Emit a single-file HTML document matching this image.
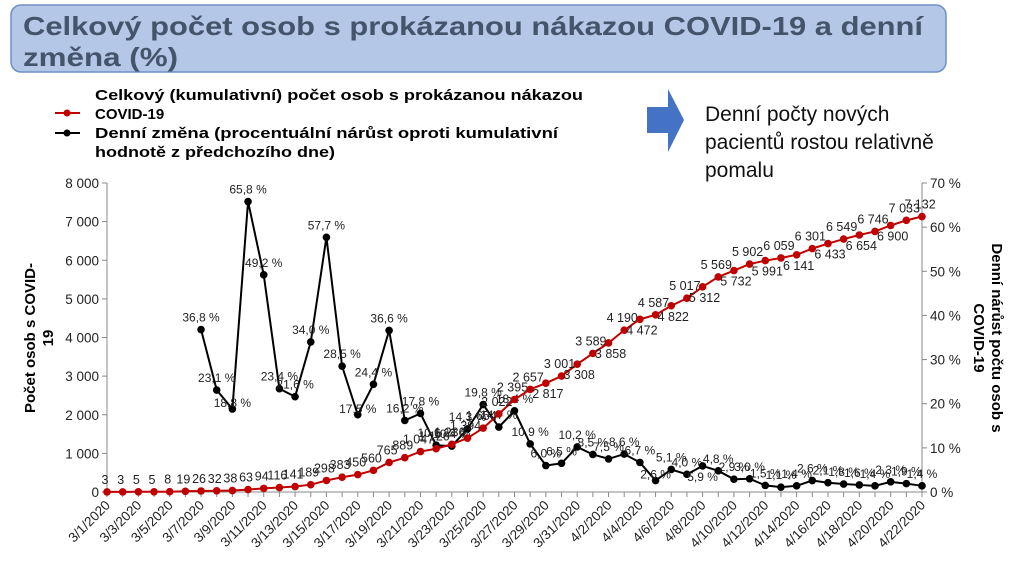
<!DOCTYPE html>
<html><head><meta charset="utf-8"><style>
html,body{margin:0;padding:0;background:#fff;}
svg{display:block;font-family:"Liberation Sans",sans-serif;}
</style></head><body>
<svg id="chart" width="1024" height="568" viewBox="0 0 1024 568">
  <rect x="11" y="5" width="935" height="67" rx="10" fill="#b4c7e7" stroke="#6f8fc9" stroke-width="1.5"/>
  <text x="23" y="35" font-size="26" font-weight="bold" fill="#44546a" textLength="900" lengthAdjust="spacingAndGlyphs">Celkový počet osob s prokázanou nákazou COVID-19 a denní</text>
  <text x="23" y="66" font-size="26" font-weight="bold" fill="#44546a" textLength="155" lengthAdjust="spacingAndGlyphs">změna (%)</text>

  <g>
    <line x1="55" y1="113" x2="80" y2="113" stroke="#c00000" stroke-width="2"/>
    <circle cx="67" cy="113" r="3.5" fill="#c00000"/>
    <text x="95" y="100" font-size="15" font-weight="bold" textLength="488" lengthAdjust="spacingAndGlyphs">Celkový (kumulativní) počet osob s prokázanou nákazou</text>
    <text x="95" y="119" font-size="15" font-weight="bold">COVID-19</text>
    <line x1="55" y1="133" x2="80" y2="133" stroke="#000" stroke-width="2"/>
    <circle cx="67" cy="133" r="3.5" fill="#000"/>
    <text x="95" y="138" font-size="15" font-weight="bold" textLength="463" lengthAdjust="spacingAndGlyphs">Denní změna (procentuální nárůst oproti kumulativní</text>
    <text x="95" y="157" font-size="15" font-weight="bold" textLength="240" lengthAdjust="spacingAndGlyphs">hodnotě z předchozího dne)</text>
  </g>

  <polygon points="647,107 668,107 668,89 684,120 668,152 668,133 647,133" fill="#4472c4"/>
  <g font-size="21" fill="#111">
    <text x="705" y="121">Denní počty nových</text>
    <text x="705" y="149">pacientů rostou relativně</text>
    <text x="705" y="177">pomalu</text>
  </g>

  <text transform="translate(35,338) rotate(-90)" text-anchor="middle" font-size="15" font-weight="bold"><tspan x="0" dy="0">Počet osob s COVID-</tspan><tspan x="0" dy="18">19</tspan></text>
  <text transform="translate(992,338) rotate(90)" text-anchor="middle" font-size="15" font-weight="bold"><tspan x="0" dy="0">Denní nárůst počtu osob s</tspan><tspan x="0" dy="18">COVID-19</tspan></text>

  <g id="axes"></g>
  <g id="marks"></g>
</svg>
<script>
const dates = [];
for (let d = 1; d <= 31; d++) dates.push('3/' + d + '/2020');
for (let d = 1; d <= 22; d++) dates.push('4/' + d + '/2020');
const cumulative = [3,3,5,5,8,19,26,32,38,63,94,116,141,189,298,383,450,560,765,889,1047,1120,1236,1394,1654,2022,2395,2657,2817,3001,3308,3589,3858,4190,4472,4587,4822,5017,5312,5569,5732,5902,5991,6059,6141,6301,6433,6549,6654,6746,6900,7033,7132];
const dailyPct = [null,null,null,null,null,null,36.8,23.1,18.8,65.8,49.2,23.4,21.6,34.0,57.7,28.5,17.5,24.4,36.6,16.2,17.8,10.6,10.4,14.3,19.8,14.7,18.4,10.9,6.0,6.5,10.2,8.5,7.5,8.6,6.7,2.6,5.1,4.0,5.9,4.8,2.9,3.0,1.5,1.1,1.4,2.6,2.1,1.8,1.6,1.4,2.3,1.9,1.4];
const leftTicks = [0,1000,2000,3000,4000,5000,6000,7000,8000];
const rightTicks = [0,10,20,30,40,50,60,70];

const NS = 'http://www.w3.org/2000/svg';
const X0 = 107, X1 = 922, YB = 492, YT = 183;
const xS = i => X0 + (X1 - X0) * i / (dates.length - 1);
const yL = v => YB - (YB - YT) * v / 8000;
const yR = v => YB - (YB - YT) * v / 70;
const fmt = n => String(n).replace(/\B(?=(\d{3})+(?!\d))/g, ' ');
const pct = n => n.toFixed(1).replace('.', ',') + ' %';
function mk(tag, attrs, parent, txt) {
  const e = document.createElementNS(NS, tag);
  for (const k in attrs) e.setAttribute(k, attrs[k]);
  if (txt !== undefined) e.textContent = txt;
  parent.appendChild(e);
  return e;
}
const axes = document.getElementById('axes');
const marks = document.getElementById('marks');

let e = mk('line', {x1: X0, y1: YB, x2: X1, y2: YB, stroke: '#888', 'stroke-width': 1}, axes);


e = mk('line', {x1: X0, y1: YT, x2: X0, y2: YB, stroke: '#888', 'stroke-width': 1}, axes);


e = mk('line', {x1: X1, y1: YT, x2: X1, y2: YB, stroke: '#888', 'stroke-width': 1}, axes);



leftTicks.forEach(t => {
  mk('line', {x1: X0 - 5, y1: yL(t), x2: X0, y2: yL(t), stroke: '#888'}, axes);
  const tx = mk('text', {x: X0 - 8, y: yL(t) + 5, 'text-anchor': 'end', 'font-size': 13.5, fill: '#222'}, axes, fmt(t));
  
  
});
rightTicks.forEach(t => {
  mk('line', {x1: X1, y1: yR(t), x2: X1 + 5, y2: yR(t), stroke: '#888'}, axes);
  const tx = mk('text', {x: X1 + 8, y: yR(t) + 5, 'font-size': 13.5, fill: '#222'}, axes, t + ' %');
  
  
});
dates.forEach((d, i) => {
  mk('line', {x1: xS(i), y1: YB, x2: xS(i), y2: YB + 5, stroke: '#888'}, axes);
  if (i % 2 === 0) {
    const tx = mk('text', {x: xS(i) + 4, y: YB + 14, 'text-anchor': 'end', 'font-size': 13.5, fill: '#222', transform: 'rotate(-45 ' + (xS(i) + 4) + ' ' + (YB + 14) + ')'}, axes, d);
    
    
  }
});

// daily percent line
let pts = [];
dailyPct.forEach((v, i) => { if (v !== null) pts.push(xS(i) + ',' + yR(v)); });
e = mk('polyline', {points: pts.join(' '), fill: 'none', stroke: '#000', 'stroke-width': 2}, marks);


dailyPct.forEach((v, i) => {
  if (v === null) return;
  const c = mk('circle', {cx: xS(i), cy: yR(v), r: 3.8, fill: '#000'}, marks);
  
  
  const below = (i === 8 || i === 16 || i === 38 || i === 35);
  const t = mk('text', {x: xS(i), y: yR(v) - 8, 'text-anchor': 'middle', 'font-size': 12, fill: '#222'}, marks, pct(v));
  if (below) t.setAttribute('y', yR(v) + (i === 38 ? 15 : -2));
  
  
});

// cumulative line
pts = cumulative.map((v, i) => xS(i) + ',' + yL(v));
e = mk('polyline', {points: pts.join(' '), fill: 'none', stroke: '#c00000', 'stroke-width': 2}, marks);


cumulative.forEach((v, i) => {
  const c = mk('circle', {cx: xS(i), cy: yL(v), r: 3.8, fill: '#c00000'}, marks);
  
  
  let below = i >= 27 && i % 2 === 0 && i < 51;
  const t = mk('text', {x: below ? xS(i) + 2 : xS(i) - 2, y: below ? yL(v) + 15 : yL(v) - 8, 'text-anchor': 'middle', 'font-size': 12.5, fill: '#222'}, marks, fmt(v));
  
  
});
</script>
</body></html>
